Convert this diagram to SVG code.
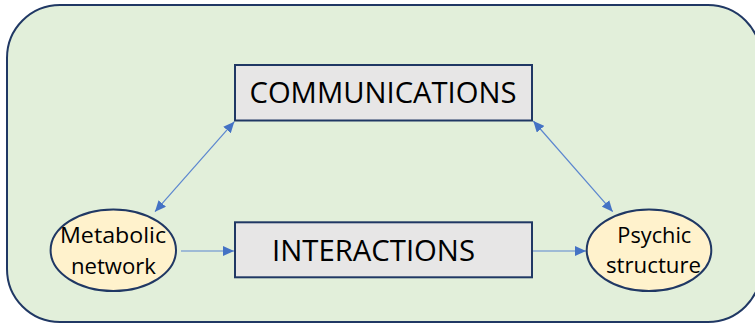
<svg xmlns="http://www.w3.org/2000/svg" width="755" height="323" viewBox="0 0 755 323">
<style>
.bg{fill:#E2EFDA;stroke:#203864;stroke-width:2}
.box{fill:#E7E6E6;stroke:#203864;stroke-width:2}
.ell{fill:#FFF2CC;stroke:#203864;stroke-width:2}
.big{font-family:"Open Sans","Liberation Sans",sans-serif;font-size:29px;fill:#000}
.small{font-family:"Open Sans","Liberation Sans",sans-serif;font-size:22px;fill:#000}
.con{stroke:#5B86CF;stroke-width:1.2;fill:none}
</style>
<defs>
<marker id="ah" markerUnits="userSpaceOnUse" markerWidth="12" markerHeight="10" refX="11" refY="5" orient="auto-start-reverse">
<path d="M0,0 L11,5 L0,10 Z" fill="#4472C4"/>
</marker>
</defs>
<rect class="bg" x="7" y="5" width="754" height="317" rx="53" ry="53"/>
<g id="connectors">
<line class="con" x1="181" y1="251" x2="234" y2="251" marker-end="url(#ah)"/>
<line class="con" x1="533" y1="251" x2="586" y2="251" marker-end="url(#ah)"/>
<line class="con" x1="234.3" y1="121.7" x2="155" y2="211.7" marker-start="url(#ah)" marker-end="url(#ah)"/>
<line class="con" x1="533.3" y1="121" x2="612.7" y2="211.7" marker-start="url(#ah)" marker-end="url(#ah)"/>
</g>
<g id="communications">
<rect class="box" x="235" y="65" width="297" height="55.5"/>
<text class="big" x="249.5" y="103.3" textLength="267" lengthAdjust="spacingAndGlyphs">COMMUNICATIONS</text>
</g>
<g id="interactions">
<rect class="box" x="235" y="222.3" width="297" height="55"/>
<text class="big" x="272" y="260.7" textLength="203" lengthAdjust="spacingAndGlyphs">INTERACTIONS</text>
</g>
<g id="metabolic">
<ellipse class="ell" cx="113.3" cy="250.2" rx="62.7" ry="40.8"/>
<text class="small" x="60" y="243.3" textLength="106" lengthAdjust="spacingAndGlyphs">Metabolic</text>
<text class="small" x="71" y="274" textLength="85" lengthAdjust="spacingAndGlyphs">network</text>
</g>
<g id="psychic">
<ellipse class="ell" cx="649" cy="250.2" rx="62.3" ry="40.8"/>
<text class="small" x="617.3" y="242.7" textLength="74" lengthAdjust="spacingAndGlyphs">Psychic</text>
<text class="small" x="606" y="273.3" textLength="95" lengthAdjust="spacingAndGlyphs">structure</text>
</g>
</svg>
